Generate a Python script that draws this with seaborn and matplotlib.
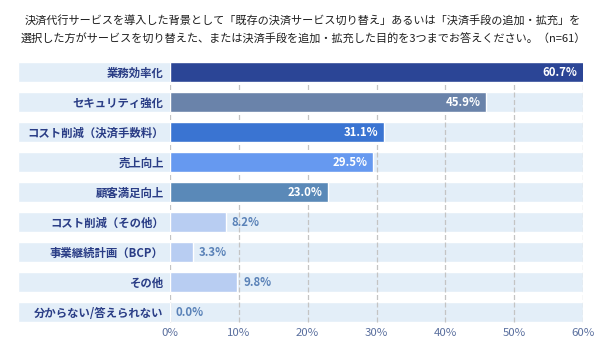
import matplotlib
matplotlib.use("Agg")
import matplotlib.pyplot as plt
import seaborn as sns
import pandas as pd

categories = ["業務効率化", "セキュリティ強化", "コスト削減（決済手数料）", "売上向上", "顧客満足向上",
              "コスト削減（その他）", "事業継続計画（BCP）", "その他", "分からない/答えられない"]
values = [60.7, 45.9, 31.1, 29.5, 23.0, 8.2, 3.3, 9.8, 0.0]
colors = ["#2b4596", "#6a83aa", "#3a74d2", "#6699f0", "#5a89b8", "#b8cdf2", "#b8cdf2", "#b8cdf2", "#b8cdf2"]
ticks = [0, 10, 20, 30, 40, 50, 60]
title = ("決済代行サービスを導入した背景として「既存の決済サービス切り替え」あるいは「決済手段の追加・拡充」を\n"
         "選択した方がサービスを切り替えた、または決済手段を追加・拡充した目的を3つまでお答えください。（n=61）")

sns.set_theme(style="white")
plt.rcParams["font.family"] = ["Noto Sans CJK JP", "DejaVu Sans"]

df = pd.DataFrame({"cat": categories, "val": values})

fig = plt.figure(figsize=(6, 3.5), dpi=100)
ax = fig.add_axes([170 / 600, 1 - 327 / 350, 413 / 600, 270 / 350])

# background bands (extend into label area)
band_h = 20 / 30
ax.barh(range(len(categories)), [82.1] * len(categories), left=-22.1, height=band_h,
        color="#e3eef8", zorder=0, clip_on=False)
ax.vlines(ticks, -band_h / 2, len(categories) - 1 + band_h / 2, colors="#c4c4c4",
          linestyles=(0, (4, 2)), linewidth=0.9, zorder=1)

sns.barplot(data=df, x="val", y="cat", hue="cat", palette=colors, orient="h",
            width=band_h, legend=False, ax=ax, zorder=2, saturation=1)

ax.set_xlim(0, 60)
ax.set_ylim(len(categories) - 0.5, -0.5)
for i, v in enumerate(values):
    if i < 5:
        ax.annotate(f"{v:.1f}%", xy=(min(v, 60), i), xytext=(-4, 0), textcoords="offset points",
                    ha="right", va="center", color="white", fontsize=8.2, fontweight="bold", zorder=3)
    else:
        ax.annotate(f"{v:.1f}%", xy=(v, i), xytext=(4, 0), textcoords="offset points",
                    ha="left", va="center", color="#5a82b8", fontsize=8.2, fontweight="bold", zorder=3)

ax.set_xticks(ticks)
ax.set_xticklabels([f"{t}%" for t in ticks], color="#5a6f9e", fontsize=8.2)
ax.set_yticks(range(len(categories)))
ax.set_yticklabels(categories, color="#2a3d86", fontsize=8.2, fontweight="bold")
ax.tick_params(axis="x", length=0, pad=1)
ax.tick_params(axis="y", length=0, pad=4.5)
ax.set_xlabel("")
ax.set_ylabel("")
for s in ax.spines.values():
    s.set_visible(False)

fig.text(0.505, 1 - 30 / 350, title, ha="center", va="center", fontsize=8, color="#1e1e1e",
         linespacing=1.8)

fig.savefig("out.png", dpi=100)
